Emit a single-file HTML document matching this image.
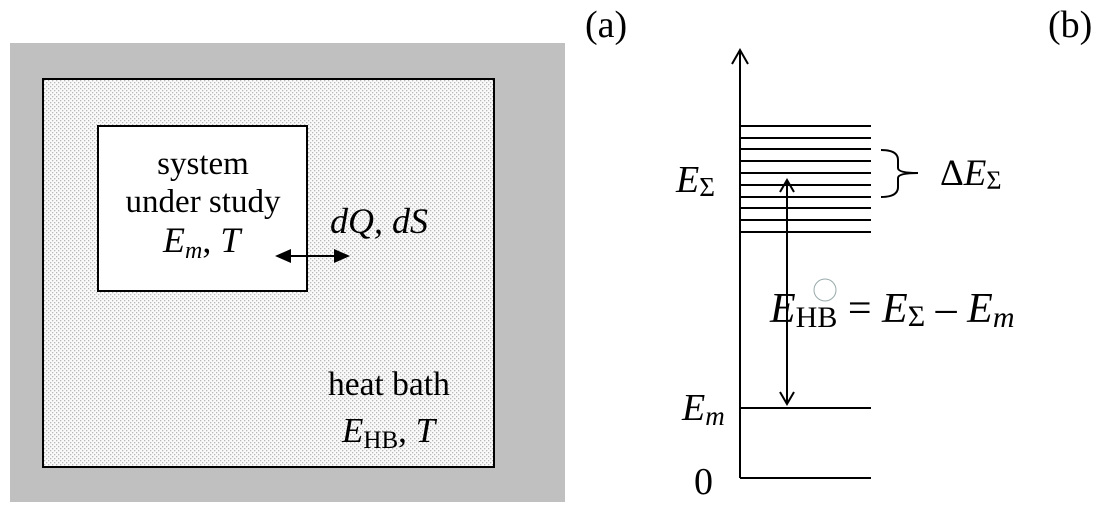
<!DOCTYPE html>
<html><head><style>
body{margin:0;background:#fff;}
svg text{font-family:"Liberation Serif",serif;fill:#000;}
</style></head><body>
<svg width="1097" height="511" viewBox="0 0 1097 511" xmlns="http://www.w3.org/2000/svg">
<defs>
<pattern id="dots" width="4" height="4" patternUnits="userSpaceOnUse">
<rect width="4" height="4" fill="#fafafa"/>
<rect x="0" y="0" width="1.3" height="1.3" fill="#b8b8b8"/>
<rect x="2" y="2" width="1.3" height="1.3" fill="#b8b8b8"/>
</pattern>
</defs>
<rect x="10" y="43" width="555" height="459" fill="#c0c0c0"/>
<rect x="43" y="79" width="451" height="388" fill="url(#dots)" stroke="#000" stroke-width="2"/>
<rect x="98" y="126" width="209" height="165" fill="#fff" stroke="#000" stroke-width="2"/>
<text x="203" y="174" font-size="33" text-anchor="middle">system</text>
<text x="203" y="212" font-size="33" text-anchor="middle">under study</text>
<text x="163" y="252" font-size="36" font-style="italic">E<tspan font-size="24" dy="6">m</tspan><tspan dy="-6" font-style="normal">, </tspan>T</text>
<line x1="285" y1="256" x2="340" y2="256" stroke="#000" stroke-width="2"/>
<polygon points="275,256 291,249 291,263" fill="#000"/>
<polygon points="350,256 334,249 334,263" fill="#000"/>
<text x="330" y="233" font-size="36" font-style="italic">dQ, dS</text>
<text x="328" y="395" font-size="33.5">heat bath</text>
<text x="342" y="442" font-size="35"><tspan font-style="italic">E</tspan><tspan font-size="25" dy="6">HB</tspan><tspan dy="-6">, </tspan><tspan font-style="italic">T</tspan></text>
<text x="585" y="37" font-size="38">(a)</text>
<text x="1048" y="37" font-size="38">(b)</text>
<line x1="740" y1="50" x2="740" y2="478" stroke="#000" stroke-width="2"/>
<polyline points="732,64 740,50 748,64" fill="none" stroke="#000" stroke-width="2"/>
<g stroke="#000" stroke-width="2">
<line x1="740" y1="126" x2="871" y2="126"/><line x1="740" y1="138" x2="871" y2="138"/>
<line x1="740" y1="149" x2="871" y2="149"/><line x1="740" y1="161" x2="871" y2="161"/>
<line x1="740" y1="173" x2="871" y2="173"/><line x1="740" y1="185" x2="871" y2="185"/>
<line x1="740" y1="197" x2="871" y2="197"/><line x1="740" y1="208" x2="871" y2="208"/>
<line x1="740" y1="220" x2="871" y2="220"/><line x1="740" y1="232" x2="871" y2="232"/>
<line x1="740" y1="408" x2="871" y2="408"/><line x1="740" y1="478" x2="871" y2="478"/>
<line x1="787" y1="180" x2="787" y2="404"/>
</g>
<polyline points="780,192 787,180 794,192" fill="none" stroke="#000" stroke-width="2"/>
<polyline points="780,392 787,404 794,392" fill="none" stroke="#000" stroke-width="2"/>
<path d="M881,150 Q898,150 898,160 L898,168 Q898,173 918,173 Q898,173 898,178 L898,187 Q898,197 881,197" fill="none" stroke="#000" stroke-width="2"/>
<text x="940" y="185" font-size="37">Δ<tspan font-style="italic">E</tspan><tspan font-size="26" dy="4">Σ</tspan></text>
<text x="676" y="192" font-size="38" font-style="italic">E<tspan font-size="27" dy="4" font-style="normal">Σ</tspan></text>
<text x="770" y="322" font-size="42"><tspan font-style="italic">E</tspan><tspan font-size="30" dy="5">HB</tspan><tspan dy="-5"> = </tspan><tspan font-style="italic">E</tspan><tspan font-size="30" dy="4">Σ</tspan><tspan dy="-4"> – </tspan><tspan font-style="italic">E</tspan><tspan font-size="30" dy="5" font-style="italic">m</tspan></text>
<circle cx="825" cy="290" r="11" fill="none" stroke="#9aa" stroke-width="1"/>
<text x="682" y="420" font-size="38" font-style="italic">E<tspan font-size="27" dy="5">m</tspan></text>
<text x="694" y="494" font-size="38">0</text>
</svg>
</body></html>
